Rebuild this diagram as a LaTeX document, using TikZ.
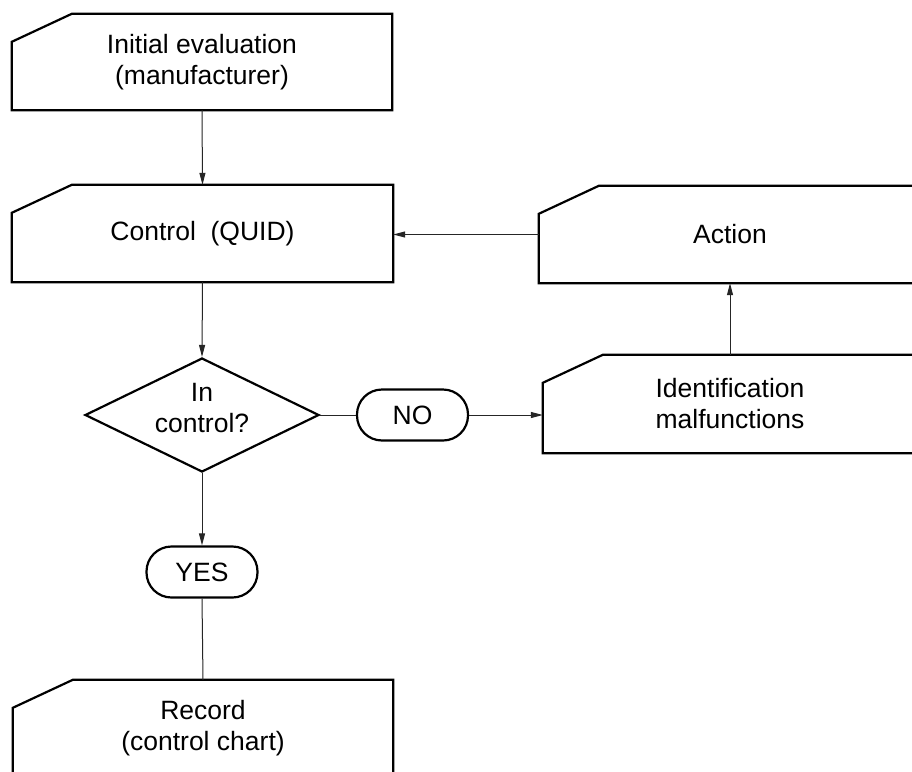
\documentclass[tikz,border=0pt]{standalone}
\usepackage{fontspec}
\setmainfont{Liberation Sans}
\usetikzlibrary{shapes.geometric,arrows.meta,calc}
\tikzset{
  boxline/.style={line width=2.2pt, line join=miter},
  procbox/.style={draw=none, inner sep=0pt, align=center},
  conn/.style={line width=1pt, draw=black!85},
  arr/.style={conn, -{Triangle[length=12pt,width=6pt]}},
  decision/.style={diamond, draw, line width=2.2pt, inner sep=0pt, aspect=2.05,
    minimum width=234pt, minimum height=114pt, align=center},
  answer/.style={rectangle, draw, line width=2.2pt, rounded corners=25pt,
    minimum width=111pt, minimum height=51pt, inner sep=0pt},
}
\newcommand{\chamfbox}[1]{%
  \draw[boxline] ($(#1.north west)+(0,28)$) -- ($(#1.north west)+(60,0)$)
    -- (#1.north east) -- (#1.south east) -- (#1.south west) -- cycle;}
\begin{document}
\begin{tikzpicture}[x=1pt,y=-1pt,font=\fontsize{26.5}{31}\selectfont]
\useasboundingbox (0,0) rectangle (912,771);
\clip (0,0) rectangle (912,771);
\fill[white] (0,0) rectangle (912,771);
% boxes
\node[procbox, minimum width=380pt, minimum height=96pt] (init) at (202,62) {Initial evaluation\\(manufacturer)};
\node[procbox, minimum width=381pt, minimum height=97pt] (control) at (202.5,233.5) {Control\ \ (QUID)};
\node[procbox, minimum width=382pt, minimum height=97pt] (action) at (730,234.5) {Action};
\node[procbox, minimum width=374pt, minimum height=98pt] (ident) at (730,404) {Identification\\malfunctions};
\node[procbox, minimum width=380pt, minimum height=97pt] (record) at (203,728.5) {Record\\(control chart)};
\chamfbox{init}
\chamfbox{control}
\chamfbox{action}
\chamfbox{ident}
\chamfbox{record}
% decision and answers
\node[decision] (dec) at (202,415) {};
\node[align=center, inner sep=0pt] (dectext) at (202,408) {In\\control?};
\node[answer] (no) at (412.5,415) {NO};
\node[answer] (yes) at (202,572) {YES};
% connectors
\draw[arr] (init.south) -- (control.north);
\draw[arr] (action.west) -- (action.west -| control.east);
\draw[arr] (control.south) -- (dec.north);
\draw[conn] (dec.east) -- (no.west);
\draw[arr] (no.east) -- (no.east -| ident.west);
\draw[arr] (ident.north) -- (action.south);
\draw[arr] (dec.south) -- (yes.north);
\draw[conn] (yes.south) -- (record.north);
\end{tikzpicture}
\end{document}
